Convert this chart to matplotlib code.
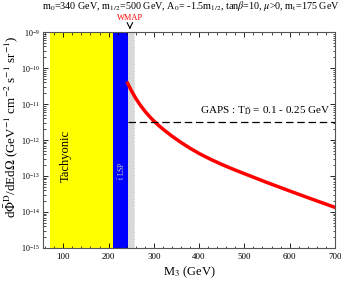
import matplotlib
matplotlib.use("Agg")
import matplotlib.pyplot as plt
import numpy as np
from matplotlib.ticker import MultipleLocator, LogLocator, NullFormatter

plt.rcParams['font.family'] = ['Liberation Serif', 'DejaVu Serif']
plt.rcParams['mathtext.fontset'] = 'stix'

# datos
m3 = [242, 250, 260, 270, 280, 290, 300, 310, 320, 340, 360, 380, 400, 425,
      450, 475, 500, 550, 600, 650, 700]
log_flux = [-10.42, -10.62, -10.84, -11.03, -11.195, -11.34, -11.47, -11.588,
            -11.696, -11.892, -12.068, -12.228, -12.374, -12.534, -12.679,
            -12.811, -12.936, -13.181, -13.416, -13.646, -13.871]
flux = [10 ** v for v in log_flux]

tachyonic = [71, 209]
stop_lsp = [209, 242]
wmap_band = [242, 257]
wmap_arrow = 247
gaps_level = 3.2e-12

fig = plt.figure(figsize=(3.41, 2.84), dpi=100)
ax = fig.add_axes([0.126, 0.127, 0.856, 0.76])

ax.axvspan(tachyonic[0], tachyonic[1], color='#ffff00', lw=0)
ax.axvspan(stop_lsp[0], stop_lsp[1], color='#0000ff', lw=0)
ax.axvspan(wmap_band[0], wmap_band[1], color='#d9d9d9', lw=0)
ax.axvline(wmap_band[1], color='#aaaaaa', lw=0.6, ls=':')

ax.plot(m3, flux, color='red', lw=2.5)
ax.hlines(gaps_level, stop_lsp[1], 700, colors='black', lw=0.9, linestyles=(0, (6, 3)))

ax.set_yscale('log')
ax.set_xlim(55, 700)
ax.set_ylim(1e-15, 1e-9)

ax.xaxis.set_major_locator(MultipleLocator(100))
ax.xaxis.set_minor_locator(MultipleLocator(20))
ax.yaxis.set_major_locator(LogLocator(base=10, numticks=10))
ax.yaxis.set_minor_locator(LogLocator(base=10, subs=np.arange(2, 10), numticks=10))
ax.yaxis.set_minor_formatter(NullFormatter())
ax.tick_params(which='both', direction='in', top=True, right=True, labelsize=6.5)
ax.tick_params(axis='y', labelsize=5.8, pad=2.5)
ax.tick_params(which='major', length=3.5, width=0.6)
ax.tick_params(which='minor', length=1.8, width=0.5)
for s in ax.spines.values():
    s.set_linewidth(0.8)
    s.set_color('#555555')

ax.set_xlabel('M$_3$ (GeV)', fontsize=9, labelpad=3)
ax.set_ylabel(r'd$\bar{\Phi}^{\rm D}$/dEd$\Omega$ (GeV$^{-1}$ cm$^{-2}$ s$^{-1}$ sr$^{-1}$)',
              fontsize=9.4)
ax.yaxis.set_label_coords(-0.078, 0.56)

ax.text(105, 10 ** -12.45, 'Tachyonic', rotation=90, ha='center', va='center', fontsize=9)
ax.text(227, 10 ** -12.86, r'$\tilde{\rm t}$ LSP', rotation=90, ha='center', va='center',
        fontsize=5.5, color='#cccccc')
ax.text(690, gaps_level * 1.35, r'GAPS : T$_{\bar{\rm D}}$ = 0.1 - 0.25 GeV',
        ha='right', va='bottom', fontsize=8)

ax.annotate('', xy=(wmap_arrow, 1e-9), xytext=(wmap_arrow, 10 ** -8.78),
            xycoords='data', annotation_clip=False,
            arrowprops=dict(arrowstyle='->', color='black', lw=0.8))
ax.text(wmap_arrow, 10 ** -8.72, 'WMAP', color='red', ha='center', va='bottom',
        fontsize=6)

fig.text(0.56, 0.978, r'm$_0$=340 GeV, m$_{1/2}$=500 GeV, A$_0$= -1.5m$_{1/2}$, '
         r'tan$\beta$=10, $\mu$>0, m$_{\rm t}$=175 GeV',
         ha='center', va='center', fontsize=7.3)

fig.savefig('out.png', dpi=100)
